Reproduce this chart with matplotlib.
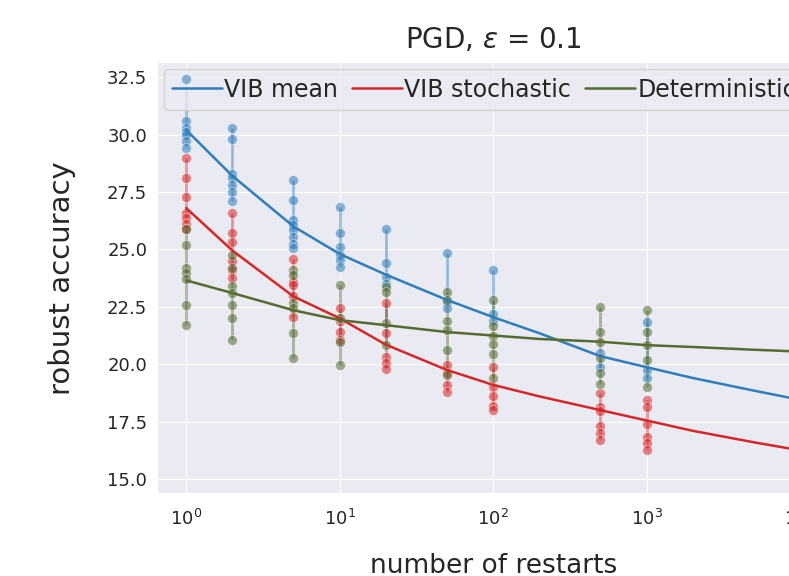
import numpy as np
import matplotlib
matplotlib.use("Agg")
import matplotlib.pyplot as plt
import seaborn as sns

# Restart counts where attacks were evaluated
restarts = [1, 2, 5, 10, 20, 50, 100, 500, 1000, 10000]

# Robust accuracy per run
vib_mean_runs = [
    [32.4, 30.6, 30.3, 30.1, 30.0, 29.7, 29.4],
    [30.3, 29.8, 28.3, 28.1, 27.8, 27.5, 27.1],
    [28.0, 27.15, 26.3, 26.05, 25.85, 25.55, 25.25, 25.05],
    [26.85, 25.7, 25.1, 24.75, 24.55, 24.25],
    [25.9, 24.4, 23.8, 23.5],
    [24.85, 22.7, 22.45],
    [24.1, 22.2, 21.9],
    [20.5, 19.9],
    [21.85, 19.75, 19.4],
    [],
]
vib_stoch_runs = [
    [29.0, 28.1, 27.3, 26.6, 26.35, 26.1, 25.9],
    [26.6, 25.7, 25.3, 24.5, 24.1, 23.75],
    [24.6, 23.6, 23.45, 22.95, 22.05],
    [22.45, 21.9, 21.4, 21.05],
    [22.65, 21.35, 20.3, 20.05, 19.8],
    [19.95, 19.6, 19.1, 18.8],
    [19.9, 19.0, 18.6, 18.2, 18.0],
    [18.75, 18.15, 17.95, 17.3, 17.0, 16.7],
    [18.45, 18.15, 17.4, 16.85, 16.55, 16.25],
    [15.45],
]
det_runs = [
    [25.9, 25.2, 24.2, 23.95, 23.7, 22.6, 21.7],
    [24.75, 24.2, 23.4, 23.1, 22.6, 22.0, 21.05],
    [24.1, 23.9, 22.65, 22.45, 21.35, 20.25],
    [23.45, 22.0, 20.95, 19.95],
    [23.35, 23.15, 21.8, 20.85],
    [23.15, 22.8, 21.9, 21.5, 20.6, 19.55],
    [22.8, 21.65, 21.25, 20.9, 20.45, 19.4],
    [22.5, 21.4, 20.95, 20.25, 19.6, 19.15],
    [22.35, 21.4, 20.85, 20.2, 19.0],
    [22.05],
]

# Fitted trend curves
fit_x = [1, 2, 5, 10, 20, 50, 100, 200, 500, 1000, 2000, 5000, 10000]
vib_mean_fit = [30.2, 28.2, 26.0, 24.8, 23.9, 22.8, 22.05, 21.35, 20.35, 19.87, 19.4, 18.85, 18.45]
vib_stoch_fit = [26.8, 24.95, 22.95, 22.0, 20.85, 19.75, 19.1, 18.6, 18.0, 17.55, 17.1, 16.6, 16.25]
det_fit = [23.65, 23.1, 22.35, 21.92, 21.7, 21.4, 21.25, 21.1, 20.98, 20.83, 20.75, 20.63, 20.55]

labels = ["VIB mean", "VIB stochastic", "Deterministic"]
colors = ["#2f7ebc", "#d62728", "#556b2f"]

sns.set_style("darkgrid")
plt.rcParams["font.family"] = ["DejaVu Sans"]

fig = plt.figure(figsize=(7.89, 5.76), dpi=100)
ax = fig.add_axes([0.199, 0.144, 0.852, 0.748])
ax.set_xscale("log")

for runs, fit, lab, col in zip([vib_mean_runs, vib_stoch_runs, det_runs],
                               [vib_mean_fit, vib_stoch_fit, det_fit], labels, colors):
    for r, vals in zip(restarts, runs):
        if len(vals) == 0:
            continue
        ax.vlines(r, min(vals), max(vals), color=col, alpha=0.45, lw=2, zorder=2)
        ax.scatter([r] * len(vals), vals, s=50, color=col, alpha=0.55,
                   edgecolor="w", linewidth=0.5, zorder=3)
    ax.plot(fit_x, fit, color=col, lw=1.8, label=lab, zorder=4)

ax.set_xlim(10 ** -0.19, 10 ** 4.19)
ax.set_ylim(14.39, 33.15)
ax.set_yticks(np.arange(15.0, 33.0, 2.5))
ax.minorticks_off()
ax.tick_params(labelsize=13)
ax.tick_params(axis="x", pad=8)

ax.set_title("PGD, $\\epsilon$ = 0.1", fontsize=20, pad=10)
ax.set_ylabel("robust accuracy", fontsize=21, labelpad=22)
ax.set_xlabel("number of restarts", fontsize=19, labelpad=17)

leg = ax.legend(loc="upper left", ncol=3, fontsize=17, handlelength=2.1,
                handletextpad=0.1, columnspacing=0.6, borderaxespad=0.3,
                borderpad=0.35)
leg.set_zorder(2.5)

fig.savefig("out.png", dpi=100)
